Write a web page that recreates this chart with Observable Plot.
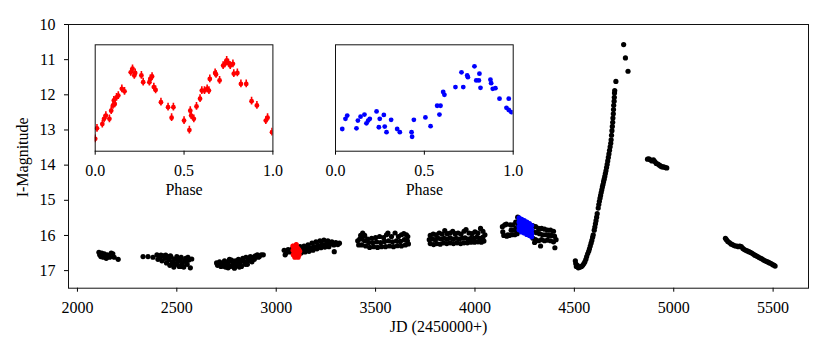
<!DOCTYPE html>
<html><head><meta charset="utf-8">
<script src="https://cdn.jsdelivr.net/npm/d3@7"></script>
<script src="https://cdn.jsdelivr.net/npm/@observablehq/plot@0.6"></script>
<style>body{margin:0;background:#fff} #wrap{position:relative;width:830px;height:356px;background:#fff}</style>
</head><body><div id="wrap"></div>
<script>
// ---- tick labels ----
const xTicks = [2000, 2500, 3000, 3500, 4000, 4500, 5000, 5500];
const yTicks = [10, 11, 12, 13, 14, 15, 16, 17];
const phaseTicks = [0, 0.5, 1];
const xLabel = "JD (2450000+)";
const yLabel = "I-Magnitude";
const phaseLabel = "Phase";

// ---- light curve, black points [JD-2450000, I mag] ----
const season1 = [[2108,16.48],[2112,16.55],[2118,16.6],[2122,16.5],[2125,16.56],[2130,16.62],[2135,16.52],[2138,16.58],[2145,16.65],[2150,16.55],[2155,16.6],[2162,16.62],[2170,16.5],[2178,16.52],[2185,16.62],[2205,16.68]];
const season2 = [[2330,16.6],[2355,16.6],[2380,16.62],[2400,16.55],[2405,16.68],[2415,16.62],[2420,16.56],[2425,16.72],[2432,16.58],[2440,16.65],[2444,16.56],[2448,16.78],[2455,16.6],[2460,16.7],[2465,16.85],[2468,16.58],[2472,16.62],[2478,16.75],[2480,16.82],[2485,16.9],[2490,16.68],[2495,16.82],[2500,16.6],[2505,16.75],[2508,16.65],[2512,16.88],[2518,16.7],[2522,16.62],[2525,16.88],[2528,16.8],[2535,16.9],[2540,16.72],[2545,16.65],[2552,16.82],[2556,16.62],[2560,16.7],[2568,16.92],[2575,16.67]];
const season3 = [[2700,16.78],[2705,16.85],[2712,16.82],[2715,16.75],[2722,16.88],[2730,16.8],[2735,16.87],[2740,16.72],[2745,16.9],[2752,16.82],[2758,16.92],[2760,16.75],[2765,16.68],[2768,16.88],[2775,16.7],[2780,16.87],[2782,16.8],[2790,16.93],[2795,16.72],[2800,16.8],[2802,16.85],[2810,16.68],[2815,16.9],[2818,16.78],[2825,16.88],[2828,16.7],[2832,16.65],[2840,16.75],[2845,16.82],[2848,16.62],[2855,16.82],[2858,16.72],[2862,16.7],[2870,16.6],[2872,16.66],[2878,16.75],[2885,16.62],[2890,16.68],[2895,16.58],[2905,16.55],[2910,16.62],[2915,16.6],[2925,16.55],[2935,16.55]];
const season4 = [[3040,16.42],[3060,16.4],[3080,16.38],[3100,16.35],[3120,16.32],[3140,16.3],[3160,16.27],[3180,16.22],[3200,16.18],[3220,16.15],[3240,16.13],[3260,16.15],[3280,16.18],[3300,16.2],[3318,16.22],
  [3050,16.5],[3070,16.47],[3090,16.45],[3110,16.42],[3130,16.4],[3150,16.38],[3170,16.35],[3190,16.32],[3210,16.28],[3230,16.25],[3250,16.25],[3270,16.25],[3290,16.27],[3310,16.26],
  [3045,16.55],[3125,16.5],[3145,16.47],[3165,16.45],[3185,16.42],[3205,16.38],[3225,16.35],[3245,16.33],[3265,16.32],[3292,16.46]];
const season5 = [[3425,16.0],[3435,15.93],[3445,16.0],[3460,16.1],[3480,16.08],[3500,16.06],[3520,16.03],[3540,16.06],[3555,15.98],[3562,15.93],[3580,16.03],[3598,15.93],[3615,16.03],[3630,15.98],[3642,15.95],[3655,15.98],[3662,16.03],
  [3410,16.15],[3420,16.1],[3432,16.1],[3445,16.15],[3465,16.2],[3485,16.2],[3505,16.18],[3525,16.2],[3545,16.17],[3565,16.15],[3585,16.18],[3605,16.15],[3625,16.17],[3645,16.12],[3660,16.15],
  [3415,16.27],[3430,16.27],[3450,16.3],[3470,16.34],[3490,16.32],[3510,16.34],[3530,16.32],[3550,16.32],[3570,16.3],[3590,16.32],[3610,16.29],[3630,16.3],[3650,16.27],[3665,16.24]];
const season6 = [[3775,16.0],[3790,15.96],[3805,15.98],[3820,15.93],[3835,15.96],[3848,15.86],[3860,15.95],[3875,15.93],[3888,15.88],[3900,15.95],[3915,15.93],[3930,15.96],[3945,15.88],[3955,15.83],[3970,15.93],[3985,15.95],[4000,15.9],[4015,15.93],[4028,15.8],[4040,15.88],[4050,15.98],
  [3770,16.12],[3785,16.1],[3800,16.12],[3815,16.08],[3830,16.1],[3845,16.08],[3860,16.1],[3875,16.07],[3890,16.1],[3905,16.08],[3920,16.1],[3935,16.08],[3950,16.07],[3965,16.1],[3980,16.08],[3995,16.08],[4010,16.05],[4025,16.08],[4040,16.05],
  [3775,16.23],[3792,16.26],[3808,16.23],[3825,16.25],[3842,16.21],[3858,16.23],[3875,16.21],[3892,16.23],[3910,16.21],[3928,16.23],[3945,16.21],[3962,16.21],[3980,16.19],[3998,16.19],[4015,16.18],[4032,16.19],[4045,16.16]];
const season7 = [[4138,15.75],[4140,15.9],[4145,16.0],[4150,15.7],[4158,15.68],[4160,16.02],[4165,15.98],[4172,16.0],[4178,15.7],[4182,15.85],[4185,15.98],[4192,15.7],[4195,15.85],[4200,15.98],[4205,15.62],[4208,15.8],[4212,15.95],[4215,15.48],[4218,15.7],[4218,15.88],
  [4290,15.72],[4305,15.75],[4320,15.8],[4335,15.8],[4350,15.82],[4365,15.85],[4380,15.85],[4395,15.88],
  [4295,15.9],[4310,15.92],[4325,15.95],[4340,15.98],[4355,15.98],[4370,16.0],[4385,16.0],[4400,16.02],
  [4292,16.08],[4305,16.12],[4320,16.15],[4335,16.12],[4350,16.15],[4365,16.13],[4380,16.15],[4395,16.18],[4408,16.12],
  [4300,16.2],[4330,16.3],[4402,16.35]];
const outburst = [[4505,16.72],[4507,16.8],[4510,16.88],[4515,16.85],[4520,16.92],[4525,16.9],[4530,16.9],[4536,16.88],[4542,16.85],[4548,16.8],[4553,16.75],[4558,16.68],[4562,16.6],[4567,16.52],[4572,16.45],[4576,16.38],[4580,16.3],[4584,16.22],[4588,16.14],[4592,16.05],[4595,15.98],
  [4600,15.85],[4603,15.76],[4606,15.67],[4609,15.58],[4612,15.48],[4615,15.38],
  [4620,15.22],[4623,15.12],[4626,15.03],[4629,14.94],[4632,14.86],[4635,14.78],[4638,14.7],[4641,14.62],[4644,14.55],[4647,14.47],[4650,14.4],[4653,14.32],[4656,14.24],[4659,14.16],[4662,14.07],[4665,13.98],[4668,13.88],[4671,13.78],[4674,13.68],[4677,13.58],[4680,13.48],[4683,13.38],[4685,13.28],
  [4687,13.15],[4689,13.02],[4691,12.9],[4693,12.78],[4694,12.66],[4696,12.54],[4697,12.42],[4698,12.3],[4700,12.18],[4701,12.07],[4702,11.95],[4703,11.88],
  [4709,11.62],[4748,10.57],[4757,10.95],[4770,11.33]];
const season9 = [[4868,13.83],[4875,13.82],[4882,13.85],[4890,13.88],[4898,13.85],[4905,13.9],[4912,13.95],[4920,13.97],[4928,14.0],[4935,14.03],[4942,14.05],[4950,14.05],[4958,14.07],[4965,14.08]];
const season10 = [[5260,16.08],[5265,16.12],[5272,16.17],[5280,16.2],[5288,16.24],[5295,16.26],[5302,16.28],[5310,16.3],[5318,16.3],[5325,16.32],[5332,16.3],[5340,16.32],[5348,16.37],[5355,16.4],[5362,16.42],[5370,16.44],[5378,16.46],[5385,16.48],[5392,16.5],[5400,16.53],[5408,16.56],[5415,16.58],[5422,16.6],[5430,16.63],[5438,16.65],[5445,16.67],[5452,16.7],[5460,16.72],[5468,16.74],[5475,16.76],[5482,16.78],[5490,16.8],[5498,16.83],[5505,16.85],[5510,16.87]];

// highlighted epochs in the light curve
const redEpoch = [[3084,16.3],[3085,16.42],[3086,16.55],[3090,16.36],[3092,16.48],[3094,16.62],[3098,16.3],[3100,16.45],[3102,16.56],[3106,16.35],[3108,16.5],[3110,16.62],[3113,16.4],[3115,16.55],[3118,16.45],[3101,16.26]];
const blueEpoch = [[4222,15.5],[4222,15.62],[4222,15.74],[4222,15.84],[4235,15.54],[4235,15.66],[4235,15.78],[4235,15.9],[4248,15.58],[4248,15.7],[4248,15.82],[4248,15.93],[4261,15.62],[4261,15.74],[4261,15.86],[4261,15.97],[4274,15.66],[4274,15.78],[4274,15.9],[4274,16.0],[4285,15.72],[4285,15.84],[4285,15.95],[4285,16.04]];

// ---- phased curves for insets [phase, relative mag] ----
const redPhase = [[0.0,13.25],[0.01,12.95],[0.04,12.83],[0.05,12.68],[0.06,12.59],[0.08,12.68],[0.09,12.45],[0.10,12.3],[0.105,12.16],[0.11,12.26],[0.12,12.07],[0.13,12.02],[0.15,11.83],[0.165,11.9],[0.20,11.36],[0.21,11.26],[0.22,11.45],[0.225,11.38],[0.26,11.45],[0.27,11.64],[0.305,11.64],[0.31,11.55],[0.32,11.48],[0.33,11.78],[0.34,11.86],[0.37,12.21],[0.41,12.35],[0.43,12.65],[0.44,12.35],[0.50,12.73],[0.53,13.0],[0.535,12.45],[0.54,12.59],[0.555,12.68],[0.57,12.33],[0.59,12.11],[0.60,11.88],[0.615,11.88],[0.63,11.83],[0.64,11.88],[0.645,11.55],[0.675,11.38],[0.68,11.42],[0.70,11.59],[0.72,11.17],[0.73,11.12],[0.74,11.02],[0.75,11.1],[0.76,11.17],[0.775,11.12],[0.78,11.4],[0.80,11.38],[0.82,11.69],[0.85,11.69],[0.88,12.18],[0.91,12.3],[0.96,12.73],[0.97,12.65],[0.995,13.06]];
const redErr = 0.11;
const bluePhase = [[0.038,12.97],[0.056,12.68],[0.066,12.59],[0.118,12.95],[0.126,12.73],[0.141,12.62],[0.163,12.56],[0.174,12.81],[0.184,12.73],[0.193,12.68],[0.231,12.47],[0.244,12.92],[0.249,12.68],[0.272,12.57],[0.277,12.9],[0.287,13.06],[0.313,12.71],[0.347,12.97],[0.362,13.06],[0.428,13.06],[0.431,13.19],[0.441,12.71],[0.506,12.64],[0.535,12.89],[0.572,12.31],[0.585,12.56],[0.591,12.31],[0.606,11.92],[0.613,12.0],[0.675,11.78],[0.709,11.36],[0.719,11.78],[0.741,11.45],[0.745,11.5],[0.782,11.19],[0.792,11.59],[0.807,11.59],[0.81,11.4],[0.816,11.8],[0.872,11.57],[0.876,11.67],[0.885,11.83],[0.9,11.81],[0.923,12.11],[0.962,12.37],[0.975,12.11],[0.975,12.43],[0.989,12.49]];

// ---- build ----
const toPts = a => a.map(([x, y]) => ({x, y}));
const black = toPts([...season1, ...season2, ...season3, ...season4, ...season5, ...season6, ...season7, ...outburst, ...season9, ...season10]);
const font = "'Liberation Serif', 'Times New Roman', serif";
const style = {fontFamily: font, fontSize: "16px", color: "#000", background: "transparent", overflow: "visible"};

const main = Plot.plot({
  width: 830, height: 356,
  marginLeft: 68, marginRight: 22, marginTop: 24, marginBottom: 68.3,
  style,
  x: {domain: [1955, 5678]},
  y: {domain: [10, 17.5], reverse: true},
  marks: [
    Plot.axisX({ticks: xTicks, tickFormat: "d", tickSize: 4, tickPadding: 9, label: null}),
    Plot.axisY({ticks: yTicks, tickFormat: "d", tickSize: 4, tickPadding: 9, label: null}),
    Plot.dot(black, {x: "x", y: "y", r: 2.6, fill: "black", stroke: null}),
    Plot.ruleX(toPts(redEpoch), {x: "x", y1: d => d.y - 0.05, y2: d => d.y + 0.05, stroke: "red", strokeWidth: 1.5}),
    Plot.dot(toPts(redEpoch), {x: "x", y: "y", r: 2.6, fill: "red"}),
    Plot.dot(toPts(blueEpoch), {x: "x", y: "y", r: 2.6, fill: "blue"}),
    Plot.frame({stroke: "#111", strokeWidth: 1}),
    Plot.text([xLabel], {frameAnchor: "bottom", textAnchor: "middle", lineAnchor: "middle", dy: 38.5, text: d => d}),
    Plot.text([yLabel], {frameAnchor: "left", textAnchor: "middle", lineAnchor: "middle", dx: -46, dy: 1, rotate: -90, text: d => d})
  ]
});
document.getElementById("wrap").appendChild(main);

function inset(data, color, left, ml, withErr) {
  const pts = toPts(data);
  const marks = [Plot.frame({fill: "white", stroke: null})];
  if (withErr) marks.push(Plot.ruleX(pts, {x: "x", y1: d => d.y - redErr, y2: d => d.y + redErr, stroke: color, strokeWidth: 1.6, clip: true}));
  marks.push(
    Plot.dot(pts, {x: "x", y: "y", r: 2.4, fill: color, clip: true}),
    Plot.axisX({ticks: phaseTicks, tickFormat: d3.format(".1f"), tickSize: 4, tickPadding: 9, label: null}),
    Plot.frame({stroke: "#111", strokeWidth: 1}),
    Plot.text([phaseLabel], {frameAnchor: "bottom", textAnchor: "middle", lineAnchor: "middle", dy: 39, text: d => d})
  );
  const p = Plot.plot({
    width: 300, height: 210,
    marginLeft: ml, marginRight: 300 - ml - 177.7, marginTop: 44.3, marginBottom: 59.3,
    style,
    x: {domain: [0, 1]},
    y: {domain: [10.58, 13.6], reverse: true, axis: null},
    marks
  });
  p.style.position = "absolute";
  p.style.left = left + "px";
  p.style.top = "0px";
  document.getElementById("wrap").appendChild(p);
}
inset(redPhase, "red", 0, 94.7, true);
inset(bluePhase, "blue", 240, 95, false);
</script>
</body></html>
